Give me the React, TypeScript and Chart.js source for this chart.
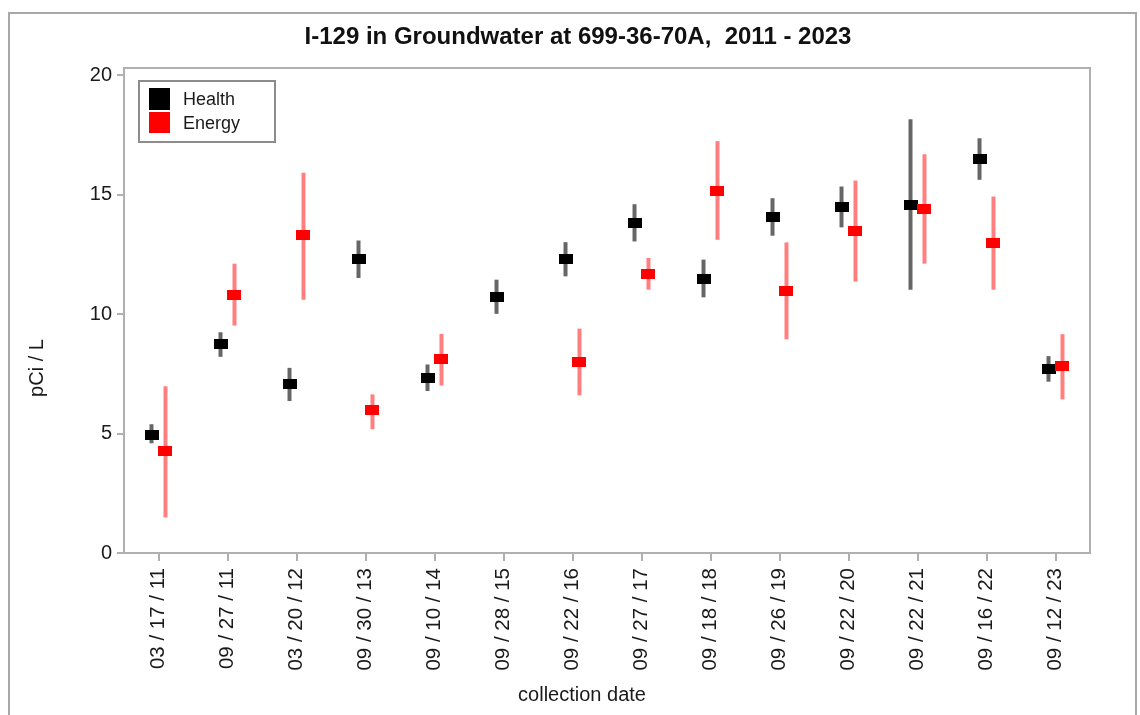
import React, { useEffect, useRef } from 'react';
import { Chart, registerables } from 'chart.js';

Chart.register(...registerables);

const categories: string[] = [
  '03 / 17 / 11', '09 / 27 / 11', '03 / 20 / 12', '09 / 30 / 13', '09 / 10 / 14',
  '09 / 28 / 15', '09 / 22 / 16', '09 / 27 / 17', '09 / 18 / 18', '09 / 26 / 19',
  '09 / 22 / 20', '09 / 22 / 21', '09 / 16 / 22', '09 / 12 / 23',
];

const healthValue: (number | null)[] = [4.95, 8.73, 7.06, 12.32, 7.31, 10.72, 12.30, 13.81, 11.47, 14.07, 14.49, 14.57, 16.49, 7.71];
const healthLow: (number | null)[] = [4.59, 8.21, 6.36, 11.51, 6.78, 10.01, 11.58, 13.04, 10.70, 13.28, 13.63, 11.02, 15.62, 7.17];
const healthHigh: (number | null)[] = [5.39, 9.24, 7.75, 13.08, 7.89, 11.44, 13.01, 14.60, 12.28, 14.85, 15.34, 18.16, 17.36, 8.24];

const energyValue: (number | null)[] = [4.25, 10.81, 13.32, 5.97, 8.14, null, 8.00, 11.68, 15.16, 10.98, 13.49, 14.41, 12.99, 7.84];
const energyLow: (number | null)[] = [1.49, 9.52, 10.60, 5.18, 7.01, null, 6.60, 11.02, 13.11, 8.94, 11.36, 12.11, 11.02, 6.43];
const energyHigh: (number | null)[] = [6.98, 12.11, 15.92, 6.64, 9.17, null, 9.39, 12.35, 17.24, 13.00, 15.59, 16.69, 14.92, 9.16];

const yTicks: number[] = [0, 5, 10, 15, 20];
const seriesNames: string[] = ['Health', 'Energy'];

const FONT = "'Liberation Sans', Arial, Helvetica, sans-serif";
const TEXT = '#1a1a1a';
const FRAME = '#b0b0b0';

export default function App() {
  const ref = useRef<HTMLCanvasElement>(null);

  useEffect(() => {
    const canvas = ref.current;
    if (!canvas) return;

    const markerColors = ['#000000', '#ff0000'];
    const centers = [healthValue, energyValue];

    const plugin = {
      id: 'custom',
      afterDatasetsDraw(chart: any) {
        const ctx = chart.ctx;
        const ys = chart.scales.y;
        ctx.save();
        centers.forEach((vals, d) => {
          const meta = chart.getDatasetMeta(d);
          vals.forEach((v, i) => {
            if (v == null) return;
            const el = meta.data[i];
            if (!el) return;
            const py = ys.getPixelForValue(v);
            ctx.fillStyle = markerColors[d];
            ctx.fillRect(Math.round(el.x) - 7, Math.round(py) - 5, 14, 10);
          });
        });
        ctx.restore();
      },
      afterDraw(chart: any) {
        const ctx = chart.ctx;
        const a = chart.chartArea;
        ctx.save();
        // plot frame
        ctx.strokeStyle = FRAME;
        ctx.lineWidth = 2;
        ctx.strokeRect(a.left, a.top, a.right - a.left, a.bottom - a.top);

        // legend
        const lx = a.left + 15;
        const ly = a.top + 13;
        ctx.strokeStyle = '#8c8c8c';
        ctx.lineWidth = 2;
        ctx.strokeRect(lx, ly, 136, 61);
        ctx.fillStyle = '#000000';
        ctx.fillRect(lx + 10, ly + 7, 21, 22);
        ctx.fillStyle = '#ff0000';
        ctx.fillRect(lx + 10, ly + 31, 21, 21);
        ctx.fillStyle = TEXT;
        ctx.font = `18px ${FONT}`;
        ctx.textAlign = 'left';
        ctx.textBaseline = 'middle';
        ctx.fillText(seriesNames[0], lx + 44, ly + 19);
        ctx.fillText(seriesNames[1], lx + 44, ly + 43);

        // axis titles
        ctx.font = `20px ${FONT}`;
        ctx.textAlign = 'center';
        ctx.textBaseline = 'middle';
        ctx.fillText('collection date', 582, 695);
        ctx.translate(37, 368);
        ctx.rotate(-Math.PI / 2);
        ctx.fillText('pCi / L', 0, 0);
        ctx.restore();
      },
    };

    const chart = new Chart(canvas, {
      type: 'bar',
      data: {
        labels: categories,
        datasets: [
          {
            label: seriesNames[0],
            data: categories.map((_, i) => (healthLow[i] == null ? null : [healthLow[i], healthHigh[i]])) as any,
            backgroundColor: 'rgba(0,0,0,0.6)',
            borderWidth: 0,
            categoryPercentage: 0.405,
            barPercentage: 1,
            maxBarThickness: 4,
          },
          {
            label: seriesNames[1],
            data: categories.map((_, i) => (energyLow[i] == null ? null : [energyLow[i], energyHigh[i]])) as any,
            backgroundColor: 'rgba(255,0,0,0.5)',
            borderWidth: 0,
            categoryPercentage: 0.405,
            barPercentage: 1,
            maxBarThickness: 4,
          },
        ],
      },
      options: {
        animation: false,
        responsive: false,
        maintainAspectRatio: false,
        layout: { padding: { left: 66, right: 50, top: 0, bottom: 0 } },
        plugins: {
          legend: { display: false },
          tooltip: { enabled: false },
          title: {
            display: true,
            text: 'I-129 in Groundwater at 699-36-70A,  2011 - 2023',
            color: '#111111',
            font: { family: FONT, size: 24, weight: 'bold', lineHeight: 1.2 },
            padding: { top: 23, bottom: 16.2 },
          },
        },
        scales: {
          x: {
            type: 'category',
            offset: true,
            grid: {
              display: true,
              drawOnChartArea: false,
              drawTicks: true,
              tickLength: 8,
              offset: false,
              color: FRAME,
              lineWidth: 2,
            },
            border: { display: false },
            ticks: {
              minRotation: 90,
              maxRotation: 90,
              autoSkip: false,
              padding: 7,
              color: TEXT,
              font: { family: FONT, size: 20.5 },
            },
            afterFit: (s: any) => { s.height = 162; },
          },
          y: {
            type: 'linear',
            min: 0,
            max: 20.3,
            stacked: false,
            grid: {
              display: true,
              drawOnChartArea: false,
              drawTicks: true,
              tickLength: 7,
              color: FRAME,
              lineWidth: 2,
            },
            border: { display: false },
            ticks: {
              padding: 5,
              color: TEXT,
              font: { family: FONT, size: 20 },
            },
            afterBuildTicks: (s: any) => { s.ticks = yTicks.map((v) => ({ value: v })); },
            afterFit: (s: any) => { s.width = 58; },
          },
        },
      },
      plugins: [plugin],
    });

    return () => chart.destroy();
  }, []);

  return (
    <div style={{ position: 'absolute', left: 0, top: 0, width: 1140, height: 715, background: '#ffffff', overflow: 'hidden' }}>
      <div
        style={{
          position: 'absolute', left: 8, top: 12, width: 1129, height: 710,
          boxSizing: 'border-box', borderLeft: '2px solid #a8a8a8', borderTop: '2px solid #a8a8a8',
          borderRight: '2px solid #a8a8a8', pointerEvents: 'none',
        }}
      />
      <canvas ref={ref} width={1140} height={715} style={{ position: 'absolute', left: 0, top: 0, width: 1140, height: 715 }} />
    </div>
  );
}
